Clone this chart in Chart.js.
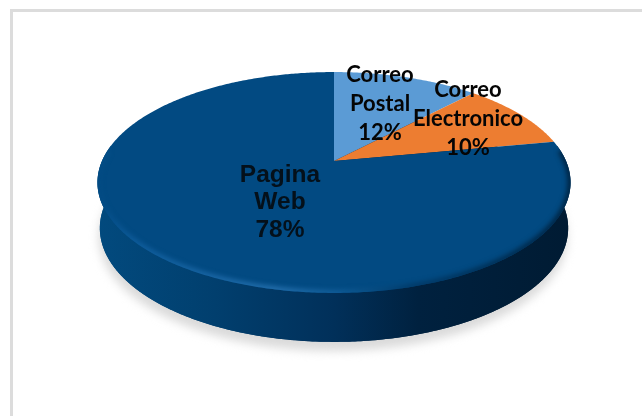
<!DOCTYPE html>
<html>
<head>
<meta charset="utf-8">
<style>
  html, body { margin: 0; padding: 0; background: #fff; }
  #wrap { position: relative; width: 642px; height: 416px; overflow: hidden; }
  #frame { position: absolute; left: 10px; top: 9px; width: 700px; height: 500px;
           border-left: 3px solid #dcdcdc; border-top: 3px solid #dcdcdc; }
  canvas { position: absolute; left: 0; top: 0; }
</style>
</head>
<body>
<div id="wrap">
  <div id="frame"></div>
  <canvas id="chart" width="642" height="416"></canvas>
</div>
<script src="https://cdn.jsdelivr.net/npm/chart.js@4"></script>
<script>
// Survey channels, in the clockwise order the slices are drawn from 12 o'clock.
const categories = [["Correo", "Postal"], ["Correo", "Electronico"], ["Pagina", "Web"]];
const shares = [12, 10, 78];
const sliceColors = ["#5b9bd5", "#ed7d31", "#024a82"];

// Perspective of the tilted disc, relative to the radius the library computes.
const view = { scaleX: 1.441, scaleY: 0.66, lean: 0.1946 };
const wall = { growX: 0.99, growY: 1.03, drop: 45 };
const labelStyle = [
  { x: 380, y: 75, gap: 29, font: "bold 22px Lato", color: "#050505" },
  { x: 468, y: 90, gap: 29, font: "bold 22px Lato", color: "#050505" },
  { x: 280, y: 175, gap: 27.5, font: "bold 24.5px 'Liberation Sans'", color: "#04101a" }
];

// Projects a point on the flat disc (angle in radians, r in 0..1) onto the canvas.
function project(arc, angle, r, lift) {
  const x = Math.cos(angle) * r, y = Math.sin(angle) * r;
  const k = 1 / (1 - view.lean * y);
  const R = arc.outerRadius;
  const px = x * view.scaleX * R * k;
  const py = y * view.scaleY * R * k;
  if (lift) return { x: arc.x + px * wall.growX, y: arc.y + py * wall.growY + wall.drop };
  return { x: arc.x + px, y: arc.y + py };
}

function traceRim(ctx, arc, from, to, lift, first) {
  const steps = Math.max(2, Math.ceil(Math.abs(to - from) / 0.01));
  for (let i = 0; i <= steps; i++) {
    const p = project(arc, from + (to - from) * i / steps, 1, lift);
    if (i === 0 && first) ctx.moveTo(p.x, p.y); else ctx.lineTo(p.x, p.y);
  }
}

function discPath(ctx, arc, lift) {
  ctx.beginPath();
  traceRim(ctx, arc, 0, Math.PI * 2, lift, true);
  ctx.closePath();
}

const tiltedPie = {
  id: "tiltedPie",
  beforeDatasetDraw(chart, args) {
    const { ctx } = chart;
    const arcs = chart.getDatasetMeta(args.index).data;
    const ref = arcs[0];

    // Soft ground shadow under the disc.
    ctx.save();
    ctx.filter = "blur(5px)";
    ctx.fillStyle = "#dadada";
    ctx.translate(-1, 9);
    discPath(ctx, ref, true);
    ctx.fill();
    ctx.restore();

    // Side wall: shaded from the lit left to the dark right.
    const side = ctx.createLinearGradient(97, 0, 570, 0);
    side.addColorStop(0, "#024a7e");
    side.addColorStop(0.25, "#013f6e");
    side.addColorStop(0.5, "#01305a");
    side.addColorStop(0.68, "#00213f");
    side.addColorStop(1, "#001b33");
    ctx.save();
    ctx.fillStyle = side;
    discPath(ctx, ref, true);
    ctx.fill();
    ctx.beginPath();
    traceRim(ctx, ref, -0.15, Math.PI + 0.15, false, true);
    traceRim(ctx, ref, Math.PI + 0.15, -0.15, true, false);
    ctx.closePath();
    ctx.fill();
    ctx.restore();

    // Top face: each wedge spans the angles the library gave its element.
    for (const arc of arcs) {
      const p = arc.getProps(["startAngle", "endAngle", "x", "y", "outerRadius"]);
      ctx.beginPath();
      ctx.moveTo(p.x, p.y);
      traceRim(ctx, p, p.startAngle, p.endAngle, false, false);
      ctx.closePath();
      ctx.fillStyle = arc.options.backgroundColor;
      ctx.fill();
    }

    // Bevel along the front of the rim.
    const bevel = ctx.createLinearGradient(97, 0, 570, 0);
    bevel.addColorStop(0, "#024a82");
    bevel.addColorStop(0.08, "#0f5d9c");
    bevel.addColorStop(0.38, "#2570ae");
    bevel.addColorStop(0.52, "#0f5b96");
    bevel.addColorStop(0.66, "#013a68");
    bevel.addColorStop(1, "#00223f");
    ctx.save();
    discPath(ctx, ref, false);
    ctx.clip();
    ctx.filter = "blur(2.5px)";
    ctx.strokeStyle = bevel;
    ctx.lineWidth = 6;
    ctx.beginPath();
    traceRim(ctx, ref, -0.1, Math.PI + 0.1, false, true);
    ctx.stroke();
    ctx.restore();
    return false;
  },
  afterDatasetsDraw(chart) {
    const { ctx } = chart;
    const labels = chart.data.labels;
    const values = chart.data.datasets[0].data;
    ctx.save();
    ctx.textAlign = "center";
    ctx.textBaseline = "middle";
    labels.forEach((lines, i) => {
      const s = labelStyle[i];
      ctx.font = s.font;
      ctx.fillStyle = s.color;
      [...lines, values[i] + "%"].forEach((line, j) => ctx.fillText(line, s.x, s.y + j * s.gap));
    });
    ctx.restore();
  }
};

new Chart(document.getElementById("chart"), {
  type: "pie",
  data: {
    labels: categories,
    datasets: [{ data: shares, backgroundColor: sliceColors, borderWidth: 0 }]
  },
  options: {
    responsive: false,
    animation: false,
    layout: { padding: { left: 26, bottom: 94 } },
    plugins: { legend: { display: false }, tooltip: { enabled: false } }
  },
  plugins: [tiltedPie]
});
</script>
</body>
</html>
